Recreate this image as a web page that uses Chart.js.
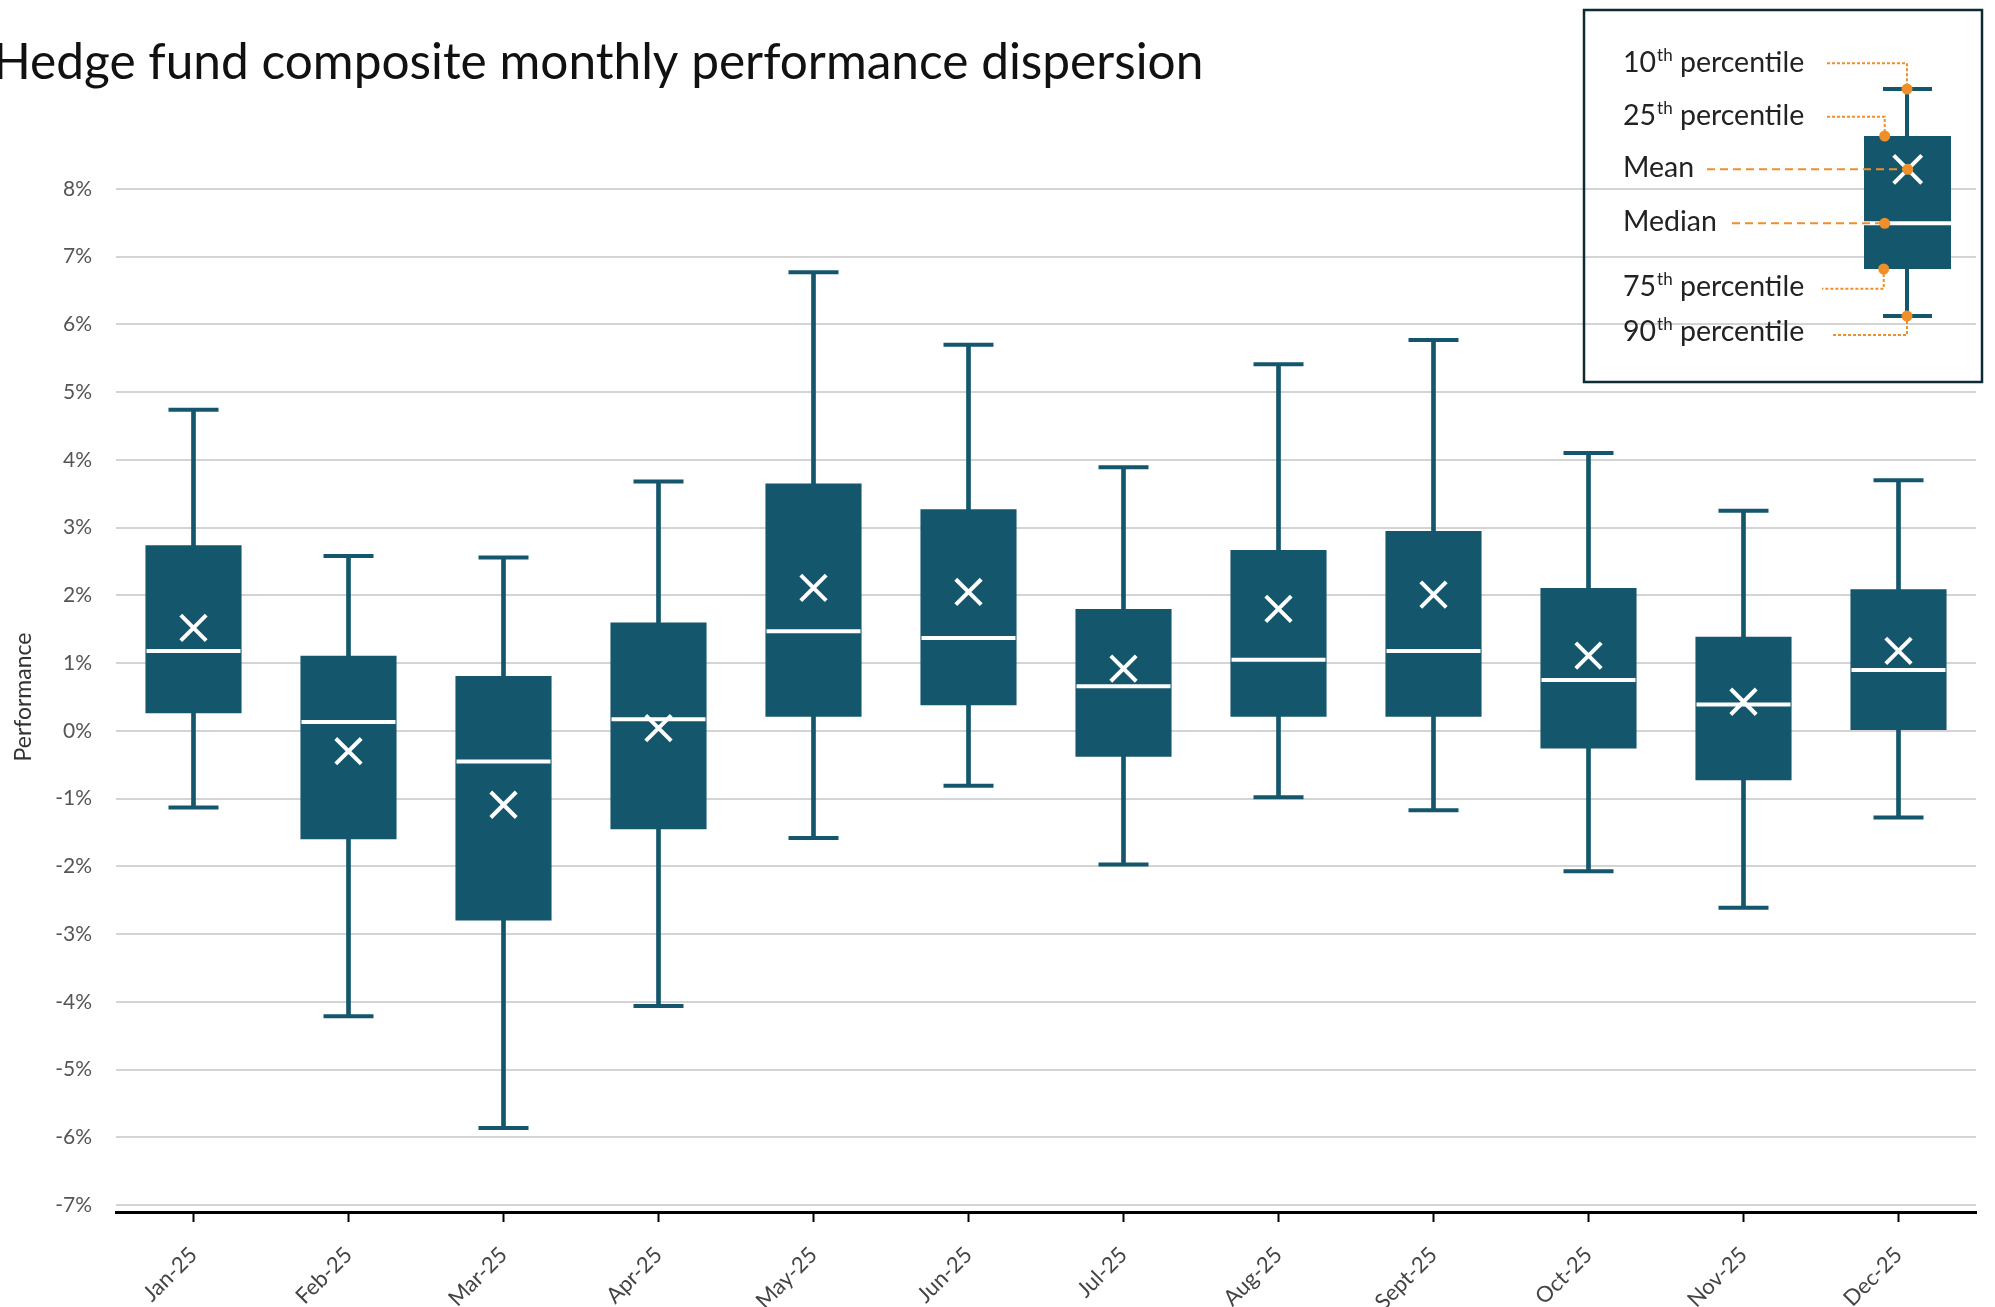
<!DOCTYPE html>
<html lang="en">
<head>
<meta charset="UTF-8">
<title>Hedge fund composite monthly performance dispersion</title>
<script src="https://cdn.jsdelivr.net/npm/chart.js@4.4.0/dist/chart.umd.min.js"></script>
<style>
    html, body { margin: 0; padding: 0; background: #fff; }
    #wrap { width: 1995px; height: 1307px; }
</style>
</head>
<body>
<div id="wrap"><canvas id="chart" width="1995" height="1307"></canvas></div>
<script>
// months on the x axis
const months = ['Jan-25', 'Feb-25', 'Mar-25', 'Apr-25', 'May-25', 'Jun-25',
                'Jul-25', 'Aug-25', 'Sept-25', 'Oct-25', 'Nov-25', 'Dec-25'];

// percentiles as labelled in the legend (10th = top whisker, 90th = bottom whisker)
const p10     = [4.74, 2.58, 2.56, 3.68, 6.77, 5.70, 3.89, 5.41, 5.77, 4.10, 3.25, 3.70];
const p25     = [2.74, 1.11, 0.81, 1.60, 3.65, 3.27, 1.80, 2.67, 2.95, 2.11, 1.39, 2.09];
const medians = [1.18, 0.13, -0.45, 0.17, 1.47, 1.37, 0.66, 1.05, 1.18, 0.75, 0.39, 0.90];
const means   = [1.52, -0.30, -1.09, 0.04, 2.11, 2.05, 0.92, 1.80, 2.01, 1.11, 0.43, 1.18];
const p75     = [0.26, -1.60, -2.80, -1.45, 0.21, 0.38, -0.38, 0.21, 0.21, -0.26, -0.73, 0.00];
const p90     = [-1.13, -4.21, -5.86, -4.06, -1.58, -0.81, -1.97, -0.98, -1.17, -2.07, -2.61, -1.28];

// y axis tick values (percent)
const yTicks = [-7, -6, -5, -4, -3, -2, -1, 0, 1, 2, 3, 4, 5, 6, 7, 8];

const TEAL = '#14566b';
const ORANGE = '#ef8f2a';
const FONT = 'Lato, "Open Sans", sans-serif';

// title, left-aligned and slightly cut by the canvas edge like the original
const titlePlugin = {
    id: 'titleText',
    afterDraw(chart) {
        const ctx = chart.ctx;
        ctx.save();
        ctx.font = '400 49.6px ' + FONT;
        ctx.fillStyle = '#111';
        ctx.textBaseline = 'alphabetic';
        ctx.textAlign = 'left';
        ctx.fillText('Hedge fund composite monthly performance dispersion', -7, 79);
        ctx.restore();
    }
};

// illustrated legend box in the top right corner
const legendPlugin = {
    id: 'boxLegend',
    afterDraw(chart) {
        const ctx = chart.ctx;
        const ox = 1584, oy = 10;
        ctx.save();
        ctx.translate(ox, oy);

        // frame
        ctx.strokeStyle = '#0f2a33';
        ctx.lineWidth = 2.5;
        ctx.strokeRect(0, 0, 398, 372);

        // mini box plot
        ctx.strokeStyle = TEAL;
        ctx.lineWidth = 4;
        ctx.beginPath();
        ctx.moveTo(323, 79); ctx.lineTo(323, 306);
        ctx.moveTo(299, 79); ctx.lineTo(348, 79);
        ctx.moveTo(299, 306); ctx.lineTo(348, 306);
        ctx.stroke();
        ctx.fillStyle = TEAL;
        ctx.fillRect(280, 126, 87, 133);
        ctx.strokeStyle = '#fff';
        ctx.lineWidth = 4;
        ctx.beginPath();
        ctx.moveTo(280, 213.3); ctx.lineTo(367, 213.3);
        ctx.moveTo(309.7, 145.3); ctx.lineTo(337.7, 173.3);
        ctx.moveTo(337.7, 145.3); ctx.lineTo(309.7, 173.3);
        ctx.stroke();

        // connectors
        ctx.strokeStyle = ORANGE;
        ctx.lineWidth = 2;
        const path = (pts, dash) => {
            ctx.setLineDash(dash);
            ctx.beginPath();
            ctx.moveTo(pts[0][0], pts[0][1]);
            for (let i = 1; i < pts.length; i++) ctx.lineTo(pts[i][0], pts[i][1]);
            ctx.stroke();
        };
        const dotted = [3, 2], dashed = [8, 5];
        path([[243, 53.3], [323, 53.3], [323, 79]], dotted);
        path([[243, 106.7], [300.7, 106.7], [300.7, 126]], dotted);
        path([[123, 159.3], [323.7, 159.3]], dashed);
        path([[148, 213.3], [300.7, 213.3]], dashed);
        path([[299.7, 259], [299.7, 278.7], [238, 278.7]], dotted);
        path([[323, 306], [323, 325], [248, 325]], dotted);
        ctx.setLineDash([]);

        ctx.fillStyle = ORANGE;
        [[323, 79], [300.7, 126], [323.7, 159.3], [300.7, 213.3], [299.7, 259], [323, 306]].forEach(p => {
            ctx.beginPath();
            ctx.arc(p[0], p[1], 5.5, 0, Math.PI * 2);
            ctx.fill();
        });

        // labels
        ctx.fillStyle = '#222';
        ctx.textBaseline = 'alphabetic';
        const big = '400 28.5px ' + FONT, small = '400 17px ' + FONT;
        const pctLabel = (num, y) => {
            let x = 39;
            ctx.font = big;
            ctx.fillText(num, x, y);
            x += ctx.measureText(num).width + 1;
            ctx.font = small;
            ctx.fillText('th', x, y - 11);
            x += ctx.measureText('th').width;
            ctx.font = big;
            ctx.fillText(' percentile', x, y);
        };
        pctLabel('10', 62);
        pctLabel('25', 115);
        ctx.font = big;
        ctx.fillText('Mean', 39, 167);
        ctx.fillText('Median', 39, 221);
        pctLabel('75', 286);
        pctLabel('90', 331);

        ctx.restore();
    }
};

const whiskers = months.map((m, i) => [p90[i], p10[i]]);
const boxes = months.map((m, i) => [p75[i], p25[i]]);

const markerSet = (label, data, style, radius, color, order) => ({
    type: 'line',
    label: label,
    data: data,
    showLine: false,
    pointStyle: style,
    pointRadius: radius,
    pointHoverRadius: radius,
    pointBorderWidth: 4,
    pointBorderColor: color,
    pointBackgroundColor: color,
    order: order
});

new Chart(document.getElementById('chart'), {
    type: 'bar',
    data: {
        labels: months,
        datasets: [
            {
                label: 'Range',
                data: whiskers,
                backgroundColor: TEAL,
                barThickness: 4,
                grouped: false,
                order: 6
            },
            {
                label: 'Interquartile',
                data: boxes,
                backgroundColor: TEAL,
                barPercentage: 0.62,
                categoryPercentage: 1,
                grouped: false,
                order: 5
            },
            markerSet('10th percentile', p10, 'line', 25, TEAL, 4),
            markerSet('90th percentile', p90, 'line', 25, TEAL, 3),
            markerSet('Median', medians, 'line', 47, '#fff', 2),
            markerSet('Mean', means, 'crossRot', 18, '#fff', 1)
        ]
    },
    options: {
        responsive: false,
        animation: false,
        events: [],
        layout: { autoPadding: false, padding: { top: 182, right: 19, left: 0, bottom: 0 } },
        plugins: {
            legend: { display: false },
            tooltip: { enabled: false }
        },
        scales: {
            x: {
                offset: true,
                afterFit: s => { s.height = 95; },
                grid: {
                    offset: false,
                    drawOnChartArea: false,
                    drawTicks: true,
                    tickLength: 10,
                    tickColor: '#000',
                    tickWidth: 2
                },
                border: { display: true, color: '#000', width: 3 },
                ticks: {
                    minRotation: 45,
                    maxRotation: 45,
                    padding: 20,
                    color: '#444',
                    font: { family: FONT, size: 22 }
                }
            },
            y: {
                min: -7.1,
                max: 8.1,
                afterBuildTicks: s => { s.ticks = yTicks.map(v => ({ value: v })); },
                afterFit: s => { s.width = 116; },
                grid: { color: '#d4d4d4', lineWidth: 2, drawTicks: false },
                border: { display: false },
                ticks: {
                    padding: 24,
                    color: '#555',
                    font: { family: FONT, size: 21 },
                    callback: v => v + '%'
                },
                title: {
                    display: true,
                    text: 'Performance',
                    color: '#333',
                    font: { family: FONT, size: 23 },
                    padding: { top: 10, bottom: 0 }
                }
            }
        }
    },
    plugins: [titlePlugin, legendPlugin]
});
</script>
</body>
</html>
